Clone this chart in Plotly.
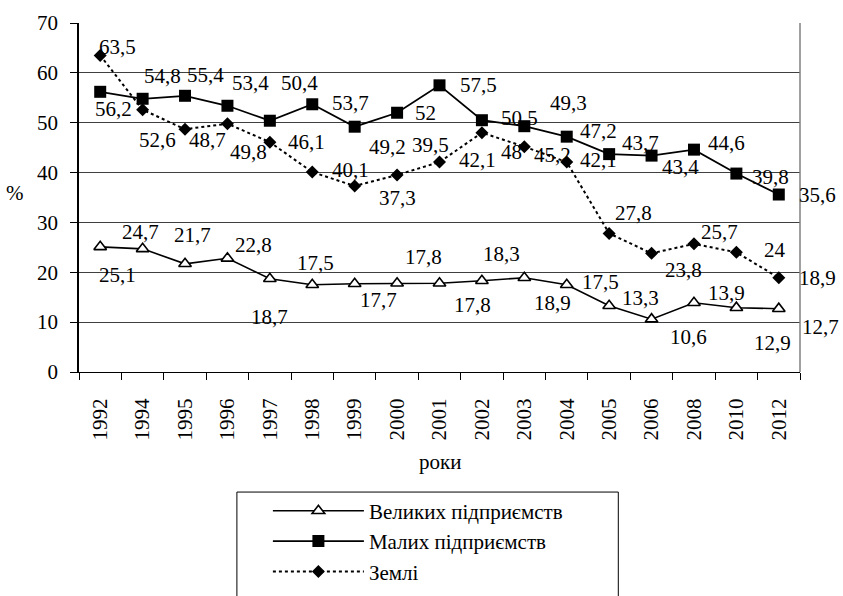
import plotly.graph_objects as go

years = ["1992", "1994", "1995", "1996", "1997", "1998", "1999", "2000", "2001",
         "2002", "2003", "2004", "2005", "2006", "2008", "2010", "2012"]

velykykh = [25.1, 24.7, 21.7, 22.8, 18.7, 17.5, 17.7, 17.8, 17.8,
            18.3, 18.9, 17.5, 13.3, 10.6, 13.9, 12.9, 12.7]
malykh = [56.2, 54.8, 55.4, 53.4, 50.4, 53.7, 49.2, 52, 57.5,
          50.5, 49.3, 47.2, 43.7, 43.4, 44.6, 39.8, 35.6]
zemli = [63.5, 52.6, 48.7, 49.8, 46.1, 40.1, 37.3, 39.5, 42.1,
         48, 45.2, 42.1, 27.8, 23.8, 25.7, 24, 18.9]

names = ["Великих підприємств", "Малих підприємств", "Землі"]

# label offsets (px) for each point: (dx, dy), dy positive = up
vel_off = [(17, -28), (-2, 17), (7, 29), (26, 13), (0, -38), (3, 22), (24, -16), (26, 26), (33, -22),
           (20, 27), (28, -25), (34, 3), (31, 8), (37, -18), (33, 10), (36, -35), (42, -18)]
mal_off = [(13, -17), (20, 23), (20, 21), (23, 23), (30, 38), (38, 1), (33, -20), (28, 0), (39, 0),
           (38, 2), (44, 23), (32, 6), (31, 11), (29, -11), (33, 7), (34, -3), (39, 0)]
zem_off = [(17, 8), (15, -30), (22, -11), (21, -28), (37, 0), (38, 2), (43, -12), (33, 30), (38, 2),
           (30, -19), (28, -8), (32, 2), (24, 20), (32, -17), (26, 12), (39, 2), (39, 0)]

FONT = "Liberation Serif"
FS = 21

def fmt(v):
    return f"{v:g}".replace(".", ",")

fig = go.Figure()
fig.add_trace(go.Scatter(
    x=years, y=velykykh, name=names[0], mode="lines+markers",
    line=dict(color="black", width=1.6),
    marker=dict(symbol="triangle-up", size=11, color="white", line=dict(color="black", width=1.6)),
))
fig.add_trace(go.Scatter(
    x=years, y=malykh, name=names[1], mode="lines+markers",
    line=dict(color="black", width=1.8),
    marker=dict(symbol="square", size=12, color="black"),
))
fig.add_trace(go.Scatter(
    x=years, y=zemli, name=names[2], mode="lines+markers",
    line=dict(color="black", width=2, dash="dot"),
    marker=dict(symbol="diamond", size=10, color="black"),
))

annotations = []
for vals, offs in ((velykykh, vel_off), (malykh, mal_off), (zemli, zem_off)):
    for i, (v, (dx, dy)) in enumerate(zip(vals, offs)):
        annotations.append(dict(x=i, y=v, text=fmt(v), showarrow=False,
                                xshift=dx, yshift=dy, font=dict(family=FONT, size=FS, color="black")))

annotations.append(dict(x=-0.089, y=0.513, xref="paper", yref="paper", text="%", showarrow=False,
                        xanchor="center", yanchor="middle",
                        font=dict(family=FONT, size=FS, color="black")))
annotations.append(dict(x=0.5, y=-0.258, xref="paper", yref="paper", text="роки", showarrow=False,
                        xanchor="center", yanchor="middle",
                        font=dict(family=FONT, size=FS, color="black")))

fig.update_layout(
    width=843, height=596,
    margin=dict(l=79, r=43, t=23, b=224, autoexpand=False),
    paper_bgcolor="white", plot_bgcolor="white",
    font=dict(family=FONT, size=FS, color="black"),
    showlegend=True,
    legend=dict(x=0.262, y=-0.340, xanchor="left", yanchor="top",
                bgcolor="rgba(0,0,0,0)", borderwidth=0, itemwidth=91,
                font=dict(family=FONT, size=FS, color="black"), tracegroupgap=0),
    annotations=annotations,
    shapes=[
        dict(type="rect", xref="paper", yref="paper", x0=0.219, x1=0.748, y0=-0.344, y1=-0.70,
             line=dict(color="black", width=1)),
        dict(type="line", xref="paper", yref="paper", x0=1, x1=1, y0=0, y1=1,
             line=dict(color="#808080", width=1.5)),
    ],
)
fig.update_xaxes(type="category", range=[-0.5, len(years) - 0.5], autorange=False, automargin=False,
                 showgrid=False, showline=True, linecolor="black", linewidth=1,
                 ticks="outside", ticklen=7, tickcolor="black", tickson="boundaries",
                 tickangle=-90, ticklabelstandoff=17,
                 tickfont=dict(family=FONT, size=FS, color="black"))
fig.update_yaxes(range=[0, 70], dtick=10, showgrid=True, gridcolor="#404040", gridwidth=1,
                 automargin=False,
                 showline=True, linecolor="black", linewidth=1.5, zeroline=False,
                 ticks="outside", ticklen=7, tickcolor="black", ticklabelstandoff=8,
                 tickfont=dict(family=FONT, size=FS, color="black"))

fig.write_html("out.html", config={"displayModeBar": False},
               post_script="document.body.style.margin='0';document.body.style.overflow='hidden';")
